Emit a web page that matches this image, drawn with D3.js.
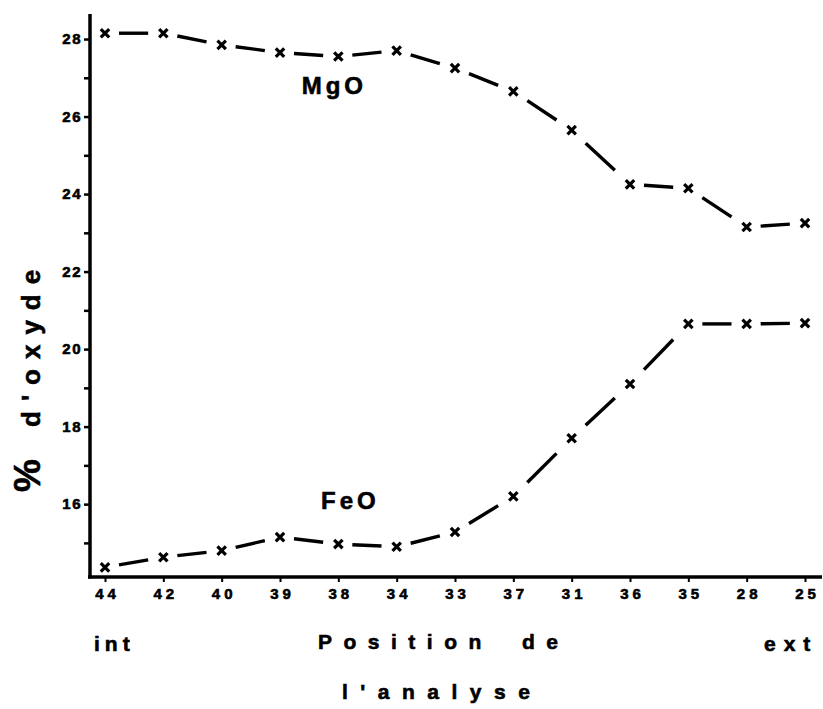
<!DOCTYPE html>
<html>
<head>
<meta charset="utf-8">
<script src="https://cdn.jsdelivr.net/npm/d3@7"></script>
<style>
  body { margin: 0; background: #fff; }
  svg { display: block; font-family: "Liberation Sans", Arial, sans-serif; font-weight: bold; }
  text { stroke: #000; stroke-width: 0.6px; }
</style>
</head>
<body>
<div id="chart"></div>
<script>
// analysis positions, from inner (int) to outer (ext)
var positions = ["44", "42", "40", "39", "38", "34", "33", "37", "31", "36", "35", "28", "25"];
var mgo = [28.15, 28.15, 27.85, 27.65, 27.55, 27.7, 27.25, 26.65, 25.65, 24.25, 24.15, 23.15, 23.25];
var feo = [14.37, 14.63, 14.8, 15.15, 14.97, 14.9, 15.28, 16.2, 17.7, 19.1, 20.65, 20.65, 20.67];
var yTicks = d3.range(15, 29);

var width = 823, height = 709;

var svg = d3.select("#chart").append("svg")
  .attr("width", width)
  .attr("height", height);

// scales
var x = d3.scalePoint().domain(positions).range([105, 805]);
var y = d3.scaleLinear().domain([14.12, 28.62]).range([577, 15]);

var axisX = 90, axisY = 577;

// y axis (ticks at every unit, labels at even values)
var gy = svg.append("g")
  .attr("transform", "translate(" + axisX + ",0)")
  .call(d3.axisLeft(y)
    .tickValues(yTicks)
    .tickSize(6)
    .tickPadding(2)
    .tickFormat(function (d) { return d % 2 == 0 ? d : ""; }));
gy.select(".domain").remove();
gy.selectAll(".tick line").attr("stroke", "#000").attr("stroke-width", 2.5);
gy.selectAll(".tick text")
  .attr("fill", "#000")
  .style("font-size", "15px")
  .style("font-weight", "bold")
  .attr("letter-spacing", 1.5);

// x axis
var gx = svg.append("g")
  .attr("transform", "translate(0," + axisY + ")")
  .call(d3.axisBottom(x).tickSize(5).tickPadding(6));
gx.select(".domain").remove();
gx.selectAll(".tick line").attr("stroke", "#000").attr("stroke-width", 2);
gx.selectAll(".tick text")
  .attr("fill", "#000")
  .style("font-size", "15px")
  .style("font-weight", "bold")
  .attr("letter-spacing", 4)
  .attr("dx", 2);

// heavy axis lines
svg.append("line")
  .attr("x1", axisX).attr("x2", axisX)
  .attr("y1", 14).attr("y2", axisY + 1.5)
  .attr("stroke", "#000").attr("stroke-width", 3.5);
svg.append("line")
  .attr("x1", axisX - 2).attr("x2", 822)
  .attr("y1", axisY).attr("y2", axisY)
  .attr("stroke", "#000").attr("stroke-width", 3.5);

// draw one series: a dash in the middle of every segment, an x at every point
function drawSeries(values) {
  var pts = values.map(function (v, i) { return [x(positions[i]), y(v)]; });
  var g = svg.append("g");
  for (var i = 0; i < pts.length - 1; i++) {
    var p0 = pts[i], p1 = pts[i + 1];
    g.append("line")
      .attr("x1", p0[0] + 0.24 * (p1[0] - p0[0]))
      .attr("y1", p0[1] + 0.24 * (p1[1] - p0[1]))
      .attr("x2", p0[0] + 0.74 * (p1[0] - p0[0]))
      .attr("y2", p0[1] + 0.74 * (p1[1] - p0[1]))
      .attr("stroke", "#000")
      .attr("stroke-width", 3.4);
  }
  g.selectAll("path.mark")
    .data(pts)
    .enter()
    .append("path")
    .attr("class", "mark")
    .attr("d", function (p) {
      var s = 4.2;
      return "M" + (p[0] - s) + "," + (p[1] - s) + "L" + (p[0] + s) + "," + (p[1] + s) +
        "M" + (p[0] + s) + "," + (p[1] - s) + "L" + (p[0] - s) + "," + (p[1] + s);
    })
    .attr("stroke", "#000")
    .attr("stroke-width", 3.2);
}
drawSeries(mgo);
drawSeries(feo);

// series labels
svg.append("text")
  .attr("x", x("38") - 4)
  .attr("y", y(26.57))
  .attr("text-anchor", "middle")
  .attr("letter-spacing", 4)
  .style("font-size", "24px")
  .text("MgO");

svg.append("text")
  .attr("x", x("38") + 12)
  .attr("y", y(15.88))
  .attr("text-anchor", "middle")
  .attr("letter-spacing", 4)
  .style("font-size", "24px")
  .text("FeO");

// y axis title
var yt = svg.append("text")
  .attr("transform", "translate(40,492) rotate(-90)");
yt.append("tspan").style("font-size", "37px").text("%");
yt.append("tspan")
  .attr("x", 65)
  .style("font-size", "26px")
  .attr("letter-spacing", 10)
  .text("d'oxyde");

// x axis titles
svg.append("text")
  .attr("x", 94).attr("y", 651)
  .attr("letter-spacing", 5)
  .style("font-size", "21px")
  .text("int");

svg.append("text")
  .attr("x", 318).attr("y", 649)
  .attr("letter-spacing", 11.5)
  .style("font-size", "21px")
  .text("Position");

svg.append("text")
  .attr("x", 522).attr("y", 649)
  .attr("letter-spacing", 11.5)
  .style("font-size", "21px")
  .text("de");

svg.append("text")
  .attr("x", 764).attr("y", 651)
  .attr("letter-spacing", 8)
  .style("font-size", "21px")
  .text("ext");

svg.append("text")
  .attr("x", 342).attr("y", 699)
  .attr("letter-spacing", 12.5)
  .style("font-size", "21px")
  .text("l'analyse");
</script>
</body>
</html>
